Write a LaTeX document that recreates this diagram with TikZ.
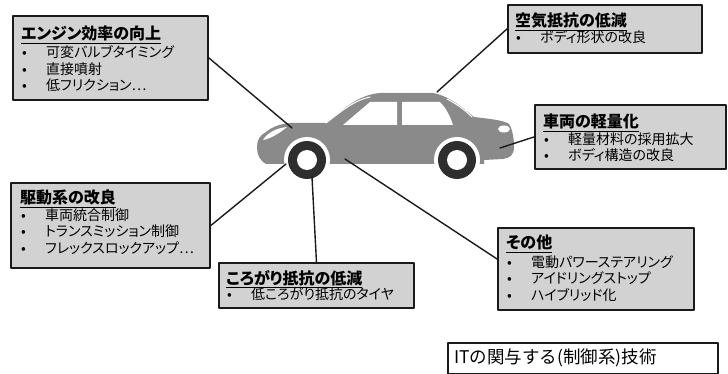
\documentclass[tikz,border=0pt]{standalone}
\usepackage{fontspec}
\setmainfont{Noto Sans CJK JP}[RawFeature={+palt}]
\newfontfamily\fulljp{Noto Sans CJK JP}
\usetikzlibrary{positioning}
\definecolor{panelgray}{HTML}{D2D2D2}
\definecolor{bodygray}{HTML}{8A8A8A}
\definecolor{tiregray}{HTML}{2E2E2E}
\definecolor{inkblack}{HTML}{1A1A1A}
\newcommand{\paneltitle}[1]{{\fontsize{16}{17}\selectfont\bfseries\underline{#1}}}
\newcommand{\bulletitem}[1]{\makebox[25pt][l]{\hspace{1pt}•}#1}

\begin{document}
\begin{tikzpicture}[x=1pt, y=1pt, line cap=round, line join=round,
    panel/.style={draw=inkblack, line width=1.9pt, fill=panelgray, inner sep=0pt, anchor=north west},
    paneltext/.style={inner sep=0pt, anchor=north west, align=left, font=\fontsize{14}{16.5}\selectfont},
    link/.style={draw=inkblack, line width=1.4pt}]
  \useasboundingbox (0,0) rectangle (728,-374);

  % Silueta del auto
  \fill[bodygray] (257,-147) .. controls (257,-140) and (260,-135) .. (266,-132)
      .. controls (272,-127) and (280,-124) .. (290,-123) -- (326,-123)
      .. controls (345,-108) and (358,-95) .. (380,-93) -- (433,-93)
      .. controls (450,-96) and (465,-110) .. (474,-117)
      .. controls (490,-119) and (503,-120) .. (509,-124)
      .. controls (513,-130) and (514,-140) .. (514,-147)
      .. controls (514,-155) and (510,-158) .. (503,-159)
      -- (484,-160) -- (484,-164) -- (266,-164)
      .. controls (259,-160) and (257,-154) .. (257,-147) -- cycle;
  \fill[white] (343,-125) -- (370,-102) -- (397,-102) -- (397,-125) -- cycle;
  \fill[white] (402,-102) -- (440,-102) .. controls (446,-108) and (450,-116) .. (453,-125) -- (402,-125) -- cycle;
  \draw[white, line width=1pt] (326,-123) .. controls (343,-110) and (355,-100) .. (370,-97);
  \draw[white, line width=1pt] (447,-99) .. controls (457,-104) and (466,-111) .. (472,-117);
  \fill[white] (263,-140) .. controls (268,-132) and (277,-128) .. (287,-127)
      .. controls (280,-133) and (270,-139) .. (263,-140);
  \fill[white] (504,-129) ellipse (6 and 3.5);
  % Ruedas
  \foreach \wx in {307,457} {
    \fill[white] (\wx,-160) circle (23);
    \fill[tiregray] (\wx,-160) circle (19);
    \fill[white] (\wx,-160) circle (10);
  }

  % Puntos de conexion en el auto
  \coordinate (hood) at (292,-128);
  \coordinate (roof) at (437,-92);
  \coordinate (rear) at (500,-148);
  \coordinate (fwheel) at (286,-164);
  \coordinate (ftire) at (312,-177);
  \coordinate (floor) at (345,-159);

  % Recuadros
  \node[panel, minimum width=195, minimum height=84] (engine) at (12,-15) {};
  \node[paneltext] (engine-text) at (21,-26) {\paneltitle{エンジン効率の向上}\\[1.5pt]
      \bulletitem{可変バルブタイミング}\\ \bulletitem{直接噴射}\\ \bulletitem{低フリクション…}};

  \node[panel, minimum width=194, minimum height=48] (aero) at (507,-4) {};
  \node[paneltext] (aero-text) at (515,-12.5) {\paneltitle{空気抵抗の低減}\\ \bulletitem{ボディ形状の改良}};

  \node[panel, minimum width=191, minimum height=64] (weight) at (534,-104) {};
  \node[paneltext] (weight-text) at (543,-114) {\paneltitle{車両の軽量化}\\
      \bulletitem{軽量材料の採用拡大}\\ \bulletitem{ボディ構造の改良}};

  \node[panel, minimum width=199, minimum height=85] (drive) at (10,-182) {};
  \node[paneltext] (drive-text) at (20,-190) {\paneltitle{駆動系の改良}\\
      \bulletitem{車両統合制御}\\ \bulletitem{トランスミッション制御}\\ \bulletitem{フレックスロックアップ…}};

  \node[panel, minimum width=195, minimum height=45] (rolling) at (218,-262) {};
  \node[paneltext] (rolling-text) at (226,-270) {\paneltitle{ころがり抵抗の低減}\\[-1pt] \bulletitem{低ころがり抵抗のタイヤ}};

  \node[panel, minimum width=196, minimum height=82] (other) at (497,-227) {};
  \node[paneltext] (other-text) at (506,-235) {\paneltitle{その他}\\[2pt]
      \bulletitem{電動パワーステアリング}\\ \bulletitem{アイドリングストップ}\\ \bulletitem{ハイブリッド化}};

  \node[panel, fill=white, line width=2.2pt, minimum width=270, minimum height=31] (legend) at (447,-342) {};
  \node[inner sep=0pt, anchor=west, font=\fulljp\fontsize{17.5}{18}\selectfont] (legend-text) at (454,-357.5) {ITの関与する(制御系)技術};

  % Lineas de conexion
  \draw[link] (engine.east) -- (hood);
  \draw[link] (aero.west) -- (roof);
  \draw[link] (weight.west) -- (rear);
  \draw[link] (drive.east) -- (fwheel);
  \draw[link] (rolling.north) -- (ftire);
  \draw[link] ([yshift=10pt]other.west) -- (floor);
\end{tikzpicture}
\end{document}
